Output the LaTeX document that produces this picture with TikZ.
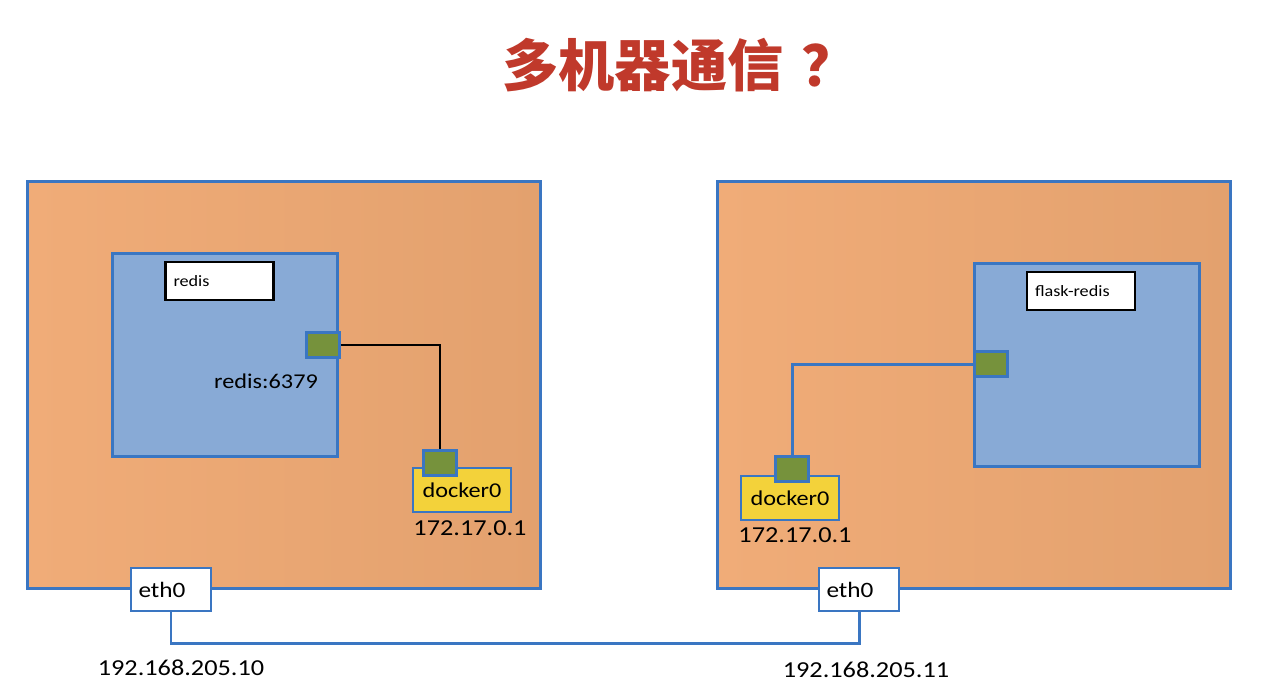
\documentclass[tikz,border=0pt]{standalone}
\usepackage{fontspec}
\setmainfont{Carlito}[FakeStretch=1.15]
\newfontfamily\cjkfont{Noto Sans CJK SC}
\usepackage{tikz}
\usetikzlibrary{positioning}
\definecolor{LineBlue}{RGB}{58,118,194}
\definecolor{HostLeft}{RGB}{240,172,120}
\definecolor{HostRight}{RGB}{227,161,110}
\definecolor{BoxBlue}{RGB}{136,170,214}
\definecolor{PortGreen}{RGB}{118,146,60}
\definecolor{BridgeYellow}{RGB}{243,210,58}
\definecolor{TitleRed}{RGB}{192,57,43}
\tikzstyle{host} = [draw=LineBlue, line width=1.7pt, rectangle, inner sep=0pt, minimum width=10.28cm, minimum height=8.16cm, left color=HostLeft, right color=HostRight]
\tikzstyle{container} = [draw=LineBlue, line width=1.7pt, fill=BoxBlue, inner sep=0pt, minimum width=4.5cm, minimum height=4.08cm]
\tikzstyle{namebox} = [draw=black, line width=1.6pt, fill=white, minimum height=0.76cm, text width=1.84cm, inner xsep=0.16cm, align=left, font=\fontsize{9}{11}\selectfont]
\tikzstyle{port} = [draw=LineBlue, line width=1.5pt, fill=PortGreen, inner sep=0pt, minimum width=0.66cm, minimum height=0.5cm]
\tikzstyle{bridge} = [draw=LineBlue, line width=1.5pt, fill=BridgeYellow, inner sep=0pt, minimum width=1.96cm, minimum height=0.88cm, font=\fontsize{12}{14}\selectfont]
\tikzstyle{nic} = [draw=LineBlue, line width=1.4pt, fill=white, minimum height=0.86cm, text width=1.3cm, inner xsep=0.15cm, align=left, font=\fontsize{12.5}{14}\selectfont]
\tikzstyle{link} = [draw=LineBlue, line width=1.7pt]
\tikzstyle{iptext} = [inner sep=0pt, font=\fontsize{13}{15}\selectfont]

\begin{document}
\begin{tikzpicture}[x=0.02cm, y=-0.02cm]
    \fill[white] (0,0) rectangle (1267,684);
    \useasboundingbox (0,0) rectangle (1267,684);
    % title
    \node[text=TitleRed, inner sep=0pt, font=\cjkfont\bfseries\fontsize{32}{37}\selectfont] (title) at (680,65) {多机器通信\hspace{0.32em}？};

    % first host
    \node[host] (hostA) at (284,385) {};
    \node[container] (redisbox) at (225,355) {};
    \node[namebox] (redisname) at (219.5,281) {redis};
    \node[port] (redisport) at (323,345) {};
    \node[inner sep=0pt, font=\fontsize{12}{14}\selectfont] (redisaddr) at (266,381) {redis:6379};
    \node[bridge] (dockerA) at (462,490) {docker0};
    \node[port] (dockerAport) at (440,463) {};
    \node[iptext] (bridgeipA) at (470,528) {172.17.0.1};
    \node[nic] (ethA) at (171,589.5) {eth0};
    \node[iptext] (hostipA) at (181,668) {192.168.205.10};

    % second host
    \node[host] (hostB) at (974,385) {};
    \node[container] (flaskbox) at (1087,365) {};
    \node[namebox] (flaskname) at (1081,291) {flask-redis};
    \node[port] (flaskport) at (991,364) {};
    \node[bridge] (dockerB) at (790,498) {docker0};
    \node[port] (dockerBport) at (792,469) {};
    \node[iptext] (bridgeipB) at (795,535) {172.17.0.1};
    \node[nic] (ethB) at (859,589.5) {eth0};
    \node[iptext] (hostipB) at (866,670) {192.168.205.11};

    % wiring
    \draw[black, line width=0.6pt] (redisport.east) -| (dockerAport.north);
    \draw[link] (flaskport.west) -| (dockerBport.north);
    \coordinate (wire) at (500,643);
    \draw[link] (ethA.south) |- (wire) -| (ethB.south);
\end{tikzpicture}
\end{document}
